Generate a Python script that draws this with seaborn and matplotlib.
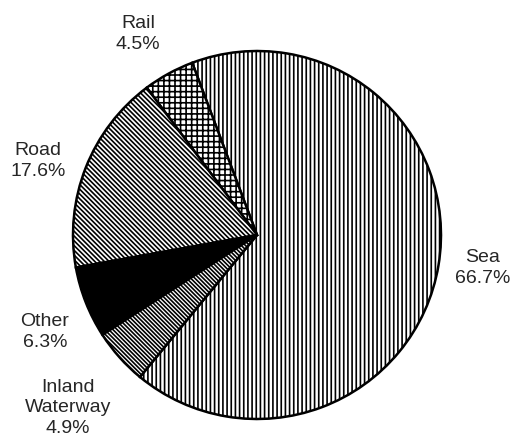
import matplotlib
matplotlib.use('Agg')
import matplotlib.pyplot as plt
import seaborn as sns

# Data (percent share by mode)
modes = ['Sea', 'Rail', 'Road', 'Other', 'Inland\nWaterway']
shares = [66.7, 4.5, 17.6, 6.3, 4.9]
label_text = ['Sea\n66.7%', 'Rail\n4.5%', 'Road\n17.6%', 'Other\n6.3%', 'Inland\nWaterway\n4.9%']

sns.set_style('white')
plt.rcParams['font.family'] = ['Liberation Sans', 'DejaVu Sans']
plt.rcParams['hatch.linewidth'] = 1.2

fig = plt.figure(figsize=(5.12, 4.46), dpi=100)
ax = fig.add_axes([0, 0, 1, 1])

wedges, _ = ax.pie(shares, startangle=-129.5, counterclock=True,
                   center=(257, 211), radius=184,
                   colors=['white', 'white', 'white', 'black', 'white'],
                   wedgeprops=dict(edgecolor='black', linewidth=1.8))
hatches = ['||||', '+++', '\\' * 7, '', '\\' * 8]
for w, h in zip(wedges, hatches):
    w.set_hatch(h)

# label positions (pixel space, y up)
label_pos = [(483, 178), (138, 412), (38, 285), (45, 114), (68, 38)]
for txt, (x, y) in zip(label_text, label_pos):
    ax.text(x, y, txt, ha='center', va='center', fontsize=14,
            linespacing=1.25)

ax.set_xlim(0, 512)
ax.set_ylim(0, 446)
ax.set_aspect('equal')
ax.axis('off')

fig.savefig('out.png', dpi=100)
